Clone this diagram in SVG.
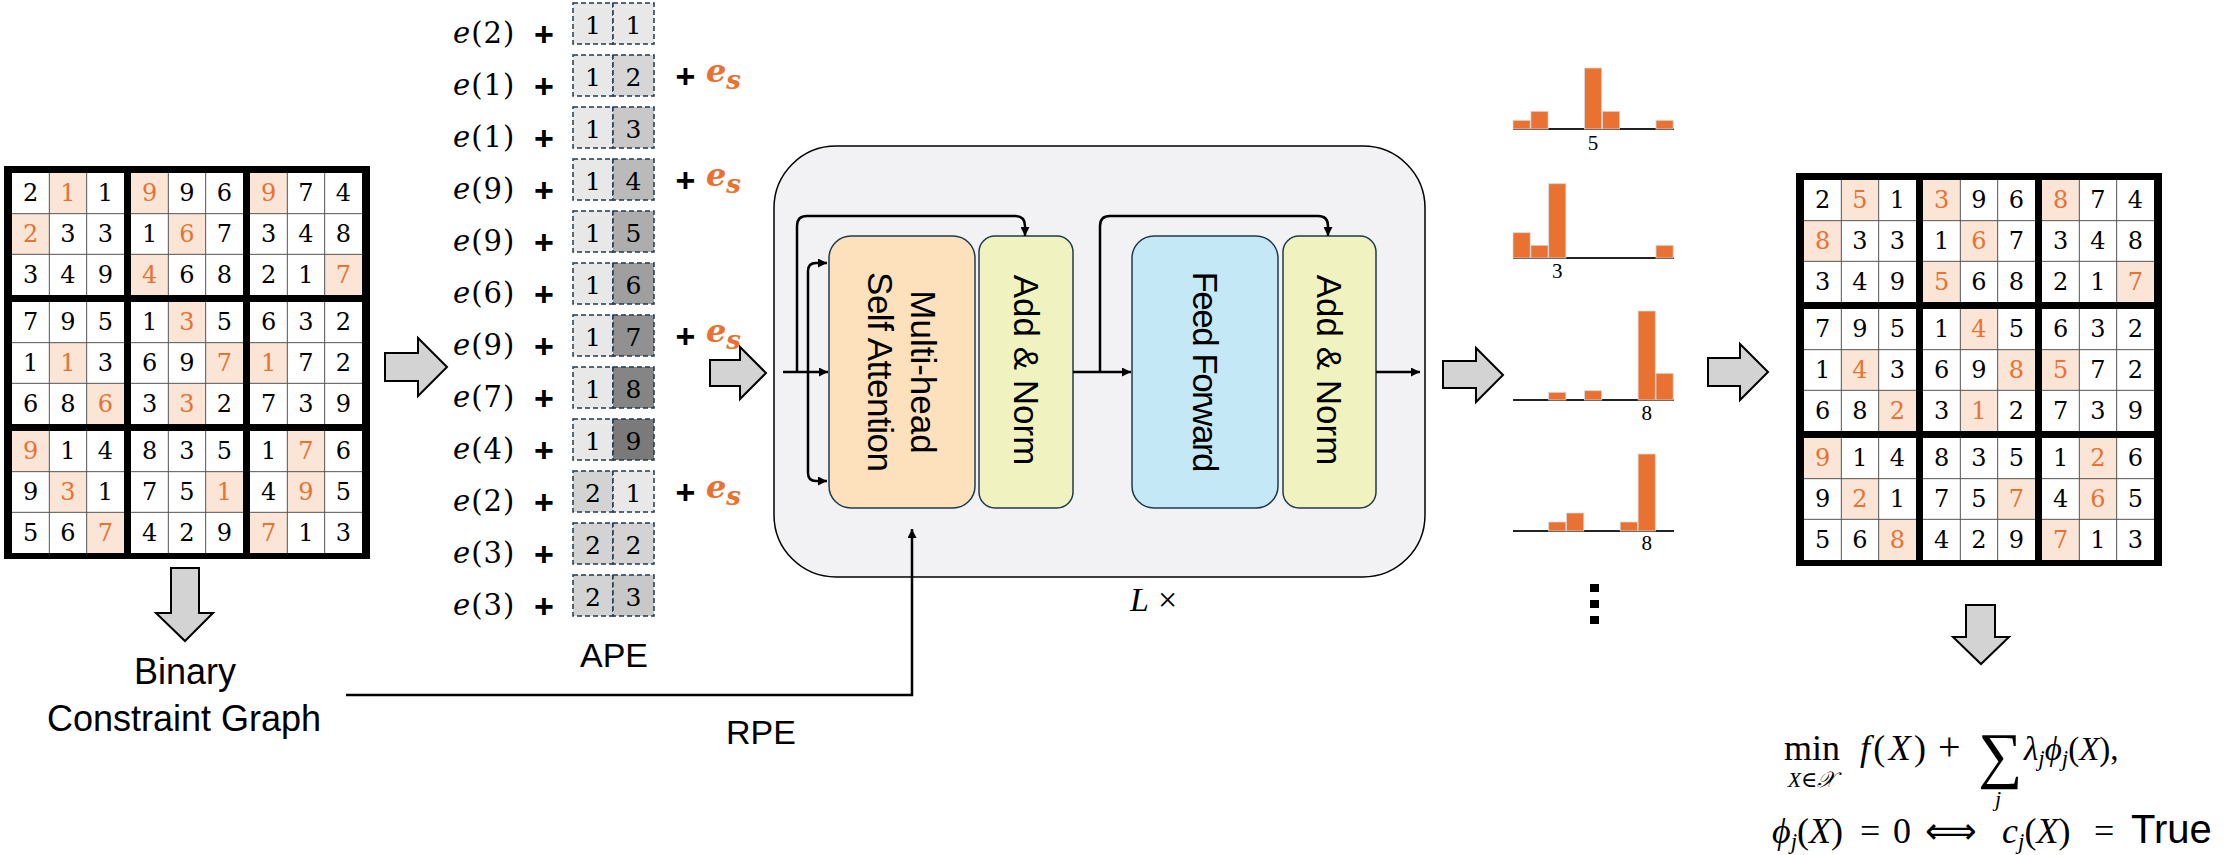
<svg xmlns="http://www.w3.org/2000/svg" xmlns:xlink="http://www.w3.org/1999/xlink" width="2224" height="855" viewBox="0 0 2224 855">
<style>
.dg{font-family:"DejaVu Serif","Liberation Serif",serif;font-size:24px;text-anchor:middle;fill:#000}
.o{fill:#E97132}
.hl{fill:#FBE5D6}
.ape-e{font-family:"DejaVu Serif","Liberation Serif",serif;font-size:29px;letter-spacing:1px}
.it{font-style:italic}
.plus{font-family:"Liberation Sans",Arial,sans-serif;font-weight:bold;font-size:34px;text-anchor:middle}
.cell{stroke:#1F3A4D;stroke-width:1.5;stroke-dasharray:5 3}
.cd{font-family:"DejaVu Serif","Liberation Serif",serif;font-size:25px;text-anchor:middle}
.es{font-family:"DejaVu Serif","Liberation Serif",serif;font-weight:bold;font-style:italic;fill:#E97132;font-size:32px}
.lbl{font-family:"Liberation Sans",Arial,sans-serif;font-size:36px;text-anchor:middle}
.lbl2{font-family:"Liberation Sans",Arial,sans-serif;font-size:34px;text-anchor:middle}
.blk{stroke:#1F3A4D;stroke-width:1.5}
.bt{font-family:"Liberation Sans",Arial,sans-serif;font-size:35px;text-anchor:middle}
.conn{fill:none;stroke:#000;stroke-width:2.5}
.barr{fill:#D3D3D3;stroke:#000;stroke-width:2;stroke-linejoin:miter}
.bar{fill:#E97132;stroke:#D9D9D9;stroke-width:0.8}
.axis{stroke:#222;stroke-width:2.2}
.hn{font-family:"Liberation Serif",serif;font-size:21px;text-anchor:middle}
.eq{font-family:"Liberation Serif","DejaVu Serif",serif;font-size:36px}
.sub{font-size:23px}
.eqs{font-family:"Liberation Serif","DejaVu Serif",serif;font-size:22px}
</style>
<defs>
<marker id="ah" viewBox="0 0 10 10" refX="10" refY="5" markerWidth="10" markerHeight="9" markerUnits="userSpaceOnUse" orient="auto-start-reverse"><path d="M0,0 L10,5 L0,10 z" fill="#000"/></marker>
<g id="hls">
<rect class="hl" x="45.33" y="7" width="37.33" height="40.67"/>
<rect class="hl" x="127" y="7" width="37.33" height="40.67"/>
<rect class="hl" x="246" y="7" width="37.33" height="40.67"/>
<rect class="hl" x="8" y="47.67" width="37.33" height="40.67"/>
<rect class="hl" x="164.33" y="47.67" width="37.33" height="40.67"/>
<rect class="hl" x="127" y="88.33" width="37.33" height="40.67"/>
<rect class="hl" x="320.67" y="88.33" width="37.33" height="40.67"/>
<rect class="hl" x="164.33" y="136" width="37.33" height="40.67"/>
<rect class="hl" x="45.33" y="176.67" width="37.33" height="40.67"/>
<rect class="hl" x="201.67" y="176.67" width="37.33" height="40.67"/>
<rect class="hl" x="246" y="176.67" width="37.33" height="40.67"/>
<rect class="hl" x="82.67" y="217.33" width="37.33" height="40.67"/>
<rect class="hl" x="164.33" y="217.33" width="37.33" height="40.67"/>
<rect class="hl" x="8" y="265" width="37.33" height="40.67"/>
<rect class="hl" x="283.33" y="265" width="37.33" height="40.67"/>
<rect class="hl" x="45.33" y="305.67" width="37.33" height="40.67"/>
<rect class="hl" x="201.67" y="305.67" width="37.33" height="40.67"/>
<rect class="hl" x="283.33" y="305.67" width="37.33" height="40.67"/>
<rect class="hl" x="82.67" y="346.33" width="37.33" height="40.67"/>
<rect class="hl" x="246" y="346.33" width="37.33" height="40.67"/>
</g>
<g id="frame">
<rect width="366" height="393" fill="#000"/>
<rect x="8" y="7" width="350" height="380" fill="#fff"/>
<use href="#hls"/>
<path d="M45.33 7V387M82.67 7V387M164.33 7V387M201.67 7V387M283.33 7V387M320.67 7V387M8 47.67H358M8 88.33H358M8 176.67H358M8 217.33H358M8 305.67H358M8 346.33H358" stroke="#555" stroke-width="1" fill="none"/>
<rect x="120" y="0" width="7" height="393" fill="#000"/>
<rect x="239" y="0" width="7" height="393" fill="#000"/>
<rect x="0" y="129" width="366" height="7" fill="#000"/>
<rect x="0" y="258" width="366" height="7" fill="#000"/>
</g>
</defs>
<rect width="2224" height="855" fill="#fff"/>

<g id="input-sudoku" class="dg" transform="translate(4 166)">
<use href="#frame"/>
<text x="26.7" y="35.3">2</text><text x="64" y="35.3" class="o">1</text><text x="101.3" y="35.3">1</text><text x="145.7" y="35.3" class="o">9</text><text x="183" y="35.3">9</text><text x="220.3" y="35.3">6</text><text x="264.7" y="35.3" class="o">9</text><text x="302" y="35.3">7</text><text x="339.3" y="35.3">4</text>
<text x="26.7" y="76" class="o">2</text><text x="64" y="76">3</text><text x="101.3" y="76">3</text><text x="145.7" y="76">1</text><text x="183" y="76" class="o">6</text><text x="220.3" y="76">7</text><text x="264.7" y="76">3</text><text x="302" y="76">4</text><text x="339.3" y="76">8</text>
<text x="26.7" y="116.7">3</text><text x="64" y="116.7">4</text><text x="101.3" y="116.7">9</text><text x="145.7" y="116.7" class="o">4</text><text x="183" y="116.7">6</text><text x="220.3" y="116.7">8</text><text x="264.7" y="116.7">2</text><text x="302" y="116.7">1</text><text x="339.3" y="116.7" class="o">7</text>
<text x="26.7" y="164.3">7</text><text x="64" y="164.3">9</text><text x="101.3" y="164.3">5</text><text x="145.7" y="164.3">1</text><text x="183" y="164.3" class="o">3</text><text x="220.3" y="164.3">5</text><text x="264.7" y="164.3">6</text><text x="302" y="164.3">3</text><text x="339.3" y="164.3">2</text>
<text x="26.7" y="205">1</text><text x="64" y="205" class="o">1</text><text x="101.3" y="205">3</text><text x="145.7" y="205">6</text><text x="183" y="205">9</text><text x="220.3" y="205" class="o">7</text><text x="264.7" y="205" class="o">1</text><text x="302" y="205">7</text><text x="339.3" y="205">2</text>
<text x="26.7" y="245.7">6</text><text x="64" y="245.7">8</text><text x="101.3" y="245.7" class="o">6</text><text x="145.7" y="245.7">3</text><text x="183" y="245.7" class="o">3</text><text x="220.3" y="245.7">2</text><text x="264.7" y="245.7">7</text><text x="302" y="245.7">3</text><text x="339.3" y="245.7">9</text>
<text x="26.7" y="293.3" class="o">9</text><text x="64" y="293.3">1</text><text x="101.3" y="293.3">4</text><text x="145.7" y="293.3">8</text><text x="183" y="293.3">3</text><text x="220.3" y="293.3">5</text><text x="264.7" y="293.3">1</text><text x="302" y="293.3" class="o">7</text><text x="339.3" y="293.3">6</text>
<text x="26.7" y="334">9</text><text x="64" y="334" class="o">3</text><text x="101.3" y="334">1</text><text x="145.7" y="334">7</text><text x="183" y="334">5</text><text x="220.3" y="334" class="o">1</text><text x="264.7" y="334">4</text><text x="302" y="334" class="o">9</text><text x="339.3" y="334">5</text>
<text x="26.7" y="374.7">5</text><text x="64" y="374.7">6</text><text x="101.3" y="374.7" class="o">7</text><text x="145.7" y="374.7">4</text><text x="183" y="374.7">2</text><text x="220.3" y="374.7">9</text><text x="264.7" y="374.7" class="o">7</text><text x="302" y="374.7">1</text><text x="339.3" y="374.7">3</text>
</g>

<g id="output-sudoku" class="dg" transform="translate(1796 173)">
<use href="#frame"/>
<text x="26.7" y="35.3">2</text><text x="64" y="35.3" class="o">5</text><text x="101.3" y="35.3">1</text><text x="145.7" y="35.3" class="o">3</text><text x="183" y="35.3">9</text><text x="220.3" y="35.3">6</text><text x="264.7" y="35.3" class="o">8</text><text x="302" y="35.3">7</text><text x="339.3" y="35.3">4</text>
<text x="26.7" y="76" class="o">8</text><text x="64" y="76">3</text><text x="101.3" y="76">3</text><text x="145.7" y="76">1</text><text x="183" y="76" class="o">6</text><text x="220.3" y="76">7</text><text x="264.7" y="76">3</text><text x="302" y="76">4</text><text x="339.3" y="76">8</text>
<text x="26.7" y="116.7">3</text><text x="64" y="116.7">4</text><text x="101.3" y="116.7">9</text><text x="145.7" y="116.7" class="o">5</text><text x="183" y="116.7">6</text><text x="220.3" y="116.7">8</text><text x="264.7" y="116.7">2</text><text x="302" y="116.7">1</text><text x="339.3" y="116.7" class="o">7</text>
<text x="26.7" y="164.3">7</text><text x="64" y="164.3">9</text><text x="101.3" y="164.3">5</text><text x="145.7" y="164.3">1</text><text x="183" y="164.3" class="o">4</text><text x="220.3" y="164.3">5</text><text x="264.7" y="164.3">6</text><text x="302" y="164.3">3</text><text x="339.3" y="164.3">2</text>
<text x="26.7" y="205">1</text><text x="64" y="205" class="o">4</text><text x="101.3" y="205">3</text><text x="145.7" y="205">6</text><text x="183" y="205">9</text><text x="220.3" y="205" class="o">8</text><text x="264.7" y="205" class="o">5</text><text x="302" y="205">7</text><text x="339.3" y="205">2</text>
<text x="26.7" y="245.7">6</text><text x="64" y="245.7">8</text><text x="101.3" y="245.7" class="o">2</text><text x="145.7" y="245.7">3</text><text x="183" y="245.7" class="o">1</text><text x="220.3" y="245.7">2</text><text x="264.7" y="245.7">7</text><text x="302" y="245.7">3</text><text x="339.3" y="245.7">9</text>
<text x="26.7" y="293.3" class="o">9</text><text x="64" y="293.3">1</text><text x="101.3" y="293.3">4</text><text x="145.7" y="293.3">8</text><text x="183" y="293.3">3</text><text x="220.3" y="293.3">5</text><text x="264.7" y="293.3">1</text><text x="302" y="293.3" class="o">2</text><text x="339.3" y="293.3">6</text>
<text x="26.7" y="334">9</text><text x="64" y="334" class="o">2</text><text x="101.3" y="334">1</text><text x="145.7" y="334">7</text><text x="183" y="334">5</text><text x="220.3" y="334" class="o">7</text><text x="264.7" y="334">4</text><text x="302" y="334" class="o">6</text><text x="339.3" y="334">5</text>
<text x="26.7" y="374.7">5</text><text x="64" y="374.7">6</text><text x="101.3" y="374.7" class="o">8</text><text x="145.7" y="374.7">4</text><text x="183" y="374.7">2</text><text x="220.3" y="374.7">9</text><text x="264.7" y="374.7" class="o">7</text><text x="302" y="374.7">1</text><text x="339.3" y="374.7">3</text>
</g>

<g id="graph-label">
<text class="lbl" x="185" y="684">Binary</text>
<text class="lbl" x="184" y="731">Constraint Graph</text>
</g>

<g id="ape">
<g id="ape-cells">
<rect class="cell" x="573" y="3" width="40" height="41" fill="#E8E8E8"/><rect class="cell" x="613" y="3" width="41" height="41" fill="#E8E8E8"/>
<rect class="cell" x="573" y="55" width="40" height="41" fill="#E8E8E8"/><rect class="cell" x="613" y="55" width="41" height="41" fill="#D6D6D6"/>
<rect class="cell" x="573" y="107" width="40" height="41" fill="#E8E8E8"/><rect class="cell" x="613" y="107" width="41" height="41" fill="#C8C8C8"/>
<rect class="cell" x="573" y="159" width="40" height="41" fill="#E8E8E8"/><rect class="cell" x="613" y="159" width="41" height="41" fill="#BABABA"/>
<rect class="cell" x="573" y="211" width="40" height="41" fill="#E8E8E8"/><rect class="cell" x="613" y="211" width="41" height="41" fill="#ADADAD"/>
<rect class="cell" x="573" y="263" width="40" height="41" fill="#E8E8E8"/><rect class="cell" x="613" y="263" width="41" height="41" fill="#9F9F9F"/>
<rect class="cell" x="573" y="315" width="40" height="41" fill="#E8E8E8"/><rect class="cell" x="613" y="315" width="41" height="41" fill="#919191"/>
<rect class="cell" x="573" y="367" width="40" height="41" fill="#E8E8E8"/><rect class="cell" x="613" y="367" width="41" height="41" fill="#858585"/>
<rect class="cell" x="573" y="419" width="40" height="41" fill="#E8E8E8"/><rect class="cell" x="613" y="419" width="41" height="41" fill="#7A7A7A"/>
<rect class="cell" x="573" y="471" width="40" height="41" fill="#D3D3D3"/><rect class="cell" x="613" y="471" width="41" height="41" fill="#E8E8E8"/>
<rect class="cell" x="573" y="523" width="40" height="41" fill="#D3D3D3"/><rect class="cell" x="613" y="523" width="41" height="41" fill="#D3D3D3"/>
<rect class="cell" x="573" y="575" width="40" height="41" fill="#D3D3D3"/><rect class="cell" x="613" y="575" width="41" height="41" fill="#C8C8C8"/>
</g>
<g class="cd">
<text x="593" y="34">1</text><text x="633.5" y="34">1</text>
<text x="593" y="86">1</text><text x="633.5" y="86">2</text>
<text x="593" y="138">1</text><text x="633.5" y="138">3</text>
<text x="593" y="190">1</text><text x="633.5" y="190">4</text>
<text x="593" y="242">1</text><text x="633.5" y="242">5</text>
<text x="593" y="294">1</text><text x="633.5" y="294">6</text>
<text x="593" y="346">1</text><text x="633.5" y="346">7</text>
<text x="593" y="398">1</text><text x="633.5" y="398">8</text>
<text x="593" y="450">1</text><text x="633.5" y="450">9</text>
<text x="593" y="502">2</text><text x="633.5" y="502">1</text>
<text x="593" y="554">2</text><text x="633.5" y="554">2</text>
<text x="593" y="606">2</text><text x="633.5" y="606">3</text>
</g>
<g class="ape-e">
<text x="453" y="43"><tspan class="it">e</tspan>(2)</text>
<text x="453" y="95"><tspan class="it">e</tspan>(1)</text>
<text x="453" y="147"><tspan class="it">e</tspan>(1)</text>
<text x="453" y="199"><tspan class="it">e</tspan>(9)</text>
<text x="453" y="251"><tspan class="it">e</tspan>(9)</text>
<text x="453" y="303"><tspan class="it">e</tspan>(6)</text>
<text x="453" y="355"><tspan class="it">e</tspan>(9)</text>
<text x="453" y="407"><tspan class="it">e</tspan>(7)</text>
<text x="453" y="459"><tspan class="it">e</tspan>(4)</text>
<text x="453" y="511"><tspan class="it">e</tspan>(2)</text>
<text x="453" y="563"><tspan class="it">e</tspan>(3)</text>
<text x="453" y="615"><tspan class="it">e</tspan>(3)</text>
</g>
<g class="plus">
<text x="544" y="45.5">+</text><text x="544" y="97.5">+</text><text x="544" y="149.5">+</text><text x="544" y="201.5">+</text><text x="544" y="253.5">+</text><text x="544" y="305.5">+</text><text x="544" y="357.5">+</text><text x="544" y="409.5">+</text><text x="544" y="461.5">+</text><text x="544" y="513.5">+</text><text x="544" y="565.5">+</text><text x="544" y="617.5">+</text>
</g>
<g id="es-terms">
<text class="plus" x="685.5" y="87.7">+</text><text class="es" x="706" y="82">e<tspan style="font-size:26px" dy="7">s</tspan></text>
<text class="plus" x="685.5" y="191.7">+</text><text class="es" x="706" y="186">e<tspan style="font-size:26px" dy="7">s</tspan></text>
<text class="plus" x="685.5" y="347.7">+</text><text class="es" x="706" y="342">e<tspan style="font-size:26px" dy="7">s</tspan></text>
<text class="plus" x="685.5" y="503.7">+</text><text class="es" x="706" y="498">e<tspan style="font-size:26px" dy="7">s</tspan></text>
</g>
<text class="lbl2" x="614" y="667">APE</text>
</g>

<g id="transformer">
<rect x="774" y="146" width="651" height="431" rx="62" fill="#F2F2F4" stroke="#000" stroke-width="1.5"/>
<text x="1130" y="611" font-family="Liberation Serif,serif" font-size="34"><tspan font-style="italic">L</tspan><tspan x="1158">×</tspan></text>
</g>
<g id="mhsa">
<rect class="blk" x="829" y="236" width="146" height="272" rx="22" fill="#FDE0BC"/>
<g transform="translate(902 372) rotate(90)" class="bt"><text x="0" y="-9">Multi-head</text><text x="0" y="34" textLength="200">Self Attention</text></g>
</g>
<g id="addnorm1">
<rect class="blk" x="979" y="236" width="94" height="272" rx="16" fill="#F0F3C0"/>
<text class="bt" transform="translate(1026 370) rotate(90)" y="12.5">Add &amp; Norm</text>
</g>
<g id="feedforward">
<rect class="blk" x="1132" y="236" width="146" height="272" rx="22" fill="#C5E8F7"/>
<text class="bt" transform="translate(1205 372) rotate(90)" y="12.5" textLength="201">Feed Forward</text>
</g>
<g id="addnorm2">
<rect class="blk" x="1283" y="236" width="93" height="272" rx="16" fill="#F0F3C0"/>
<text class="bt" transform="translate(1329.5 370) rotate(90)" y="12.5">Add &amp; Norm</text>
</g>

<g id="histograms">
<path class="axis" d="M1513 129H1674M1513 258H1674M1513 400H1674M1513 531H1674"/>
<rect class="bar" x="1513" y="120.3" width="17.2" height="8.7"/><rect class="bar" x="1530.9" y="111.3" width="17.2" height="17.7"/><rect class="bar" x="1584.5" y="68" width="17.2" height="61"/><rect class="bar" x="1602.4" y="111.3" width="17.2" height="17.7"/><rect class="bar" x="1656" y="120.3" width="17.2" height="8.7"/>
<rect class="bar" x="1513" y="232.7" width="17.2" height="25.3"/><rect class="bar" x="1530.9" y="245.3" width="17.2" height="12.7"/><rect class="bar" x="1548.7" y="183.7" width="17.2" height="74.3"/><rect class="bar" x="1656" y="245.3" width="17.2" height="12.7"/>
<rect class="bar" x="1548.7" y="392.3" width="17.2" height="7.7"/><rect class="bar" x="1584.5" y="390.7" width="17.2" height="9.3"/><rect class="bar" x="1638.1" y="311" width="17.2" height="89"/><rect class="bar" x="1656" y="373.3" width="17.2" height="26.7"/>
<rect class="bar" x="1548.7" y="522" width="17.2" height="9"/><rect class="bar" x="1566.6" y="513" width="17.2" height="18"/><rect class="bar" x="1620.2" y="522" width="17.2" height="9"/><rect class="bar" x="1638.1" y="454" width="17.2" height="77"/>
<text class="hn" x="1593.1" y="150">5</text>
<text class="hn" x="1557.3" y="278">3</text>
<text class="hn" x="1646.7" y="420">8</text>
<text class="hn" x="1646.7" y="550">8</text>
<rect x="1590" y="584" width="9" height="8"/><rect x="1590" y="600" width="9" height="8"/><rect x="1590" y="616" width="9" height="8"/>
</g>

<g id="objective">
<text class="eq" x="1784" y="760">min</text>
<text class="eqs" x="1812" y="787" text-anchor="middle"><tspan class="it">X</tspan>∈<tspan class="it">𝒳</tspan></text>
<text class="eq" x="1860" y="760" textLength="66"><tspan class="it">f</tspan>(<tspan class="it">X</tspan>)</text>
<text class="eq" x="1938" y="760" style="font-size:40px">+</text>
<text class="eq" x="1978" y="776" style="font-size:62px">∑</text>
<text class="eqs it" x="1998" y="806" text-anchor="middle">j</text>
<text class="eq" x="2024" y="760" style="font-size:33px"><tspan class="it">λ</tspan><tspan class="sub it" dy="6">j</tspan><tspan class="it" dy="-6">ϕ</tspan><tspan class="sub it" dy="6">j</tspan><tspan dy="-6">(</tspan><tspan class="it">X</tspan>),</text>
<text class="eq" x="1772" y="843"><tspan class="it">ϕ</tspan><tspan class="sub it" dy="6">j</tspan><tspan dy="-6">(</tspan><tspan class="it">X</tspan>)</text>
<text class="eq" x="1860" y="843">=</text>
<text class="eq" x="1893" y="843">0</text>
<text x="1925" y="843" font-family="DejaVu Sans,sans-serif" font-size="36">⟺</text>
<text class="eq" x="2002" y="843"><tspan class="it">c</tspan><tspan class="sub it" dy="6">j</tspan><tspan dy="-6">(</tspan><tspan class="it">X</tspan>)</text>
<text class="eq" x="2094" y="843">=</text>
<text x="2131" y="843" font-family="Liberation Sans,Arial,sans-serif" font-size="40">True</text>
</g>

<text id="rpe-label" class="lbl2" x="761" y="744">RPE</text>

<g id="connectors">
<polygon class="barr" points="385,353 418,353 418,338 447,367 418,396 418,381 385,381"/>
<polygon class="barr" points="710,360 740,360 740,347 766,373 740,399 740,386 710,386"/>
<polygon class="barr" points="1443,361 1476,361 1476,348 1503,375 1476,402 1476,388 1443,388"/>
<polygon class="barr" points="1708,358 1740,358 1740,344 1768,372 1740,400 1740,386 1708,386"/>
<polygon class="barr" points="171,568 199,568 199,613 213,613 185,641 156,613 171,613"/>
<polygon class="barr" points="1966,605 1995,605 1995,637 2009,637 1981,664 1953,637 1966,637"/>
<path class="conn" d="M783 372H828" marker-end="url(#ah)"/>
<path class="conn" d="M797 372V226Q797 216 807 216H1015Q1025 216 1025 226V236" marker-end="url(#ah)"/>
<path class="conn" d="M827 263H816Q808 263 808 271V473Q808 481 816 481H827" marker-start="url(#ah)" marker-end="url(#ah)"/>
<path class="conn" d="M1073 372H1131" marker-end="url(#ah)"/>
<path class="conn" d="M1100 372V226Q1100 216 1110 216H1318Q1328 216 1328 226V236" marker-end="url(#ah)"/>
<path class="conn" d="M1376 372H1420" marker-end="url(#ah)"/>
<path class="conn" d="M346 695H912V529" stroke-width="3" marker-end="url(#ah)"/>
</g>
</svg>
